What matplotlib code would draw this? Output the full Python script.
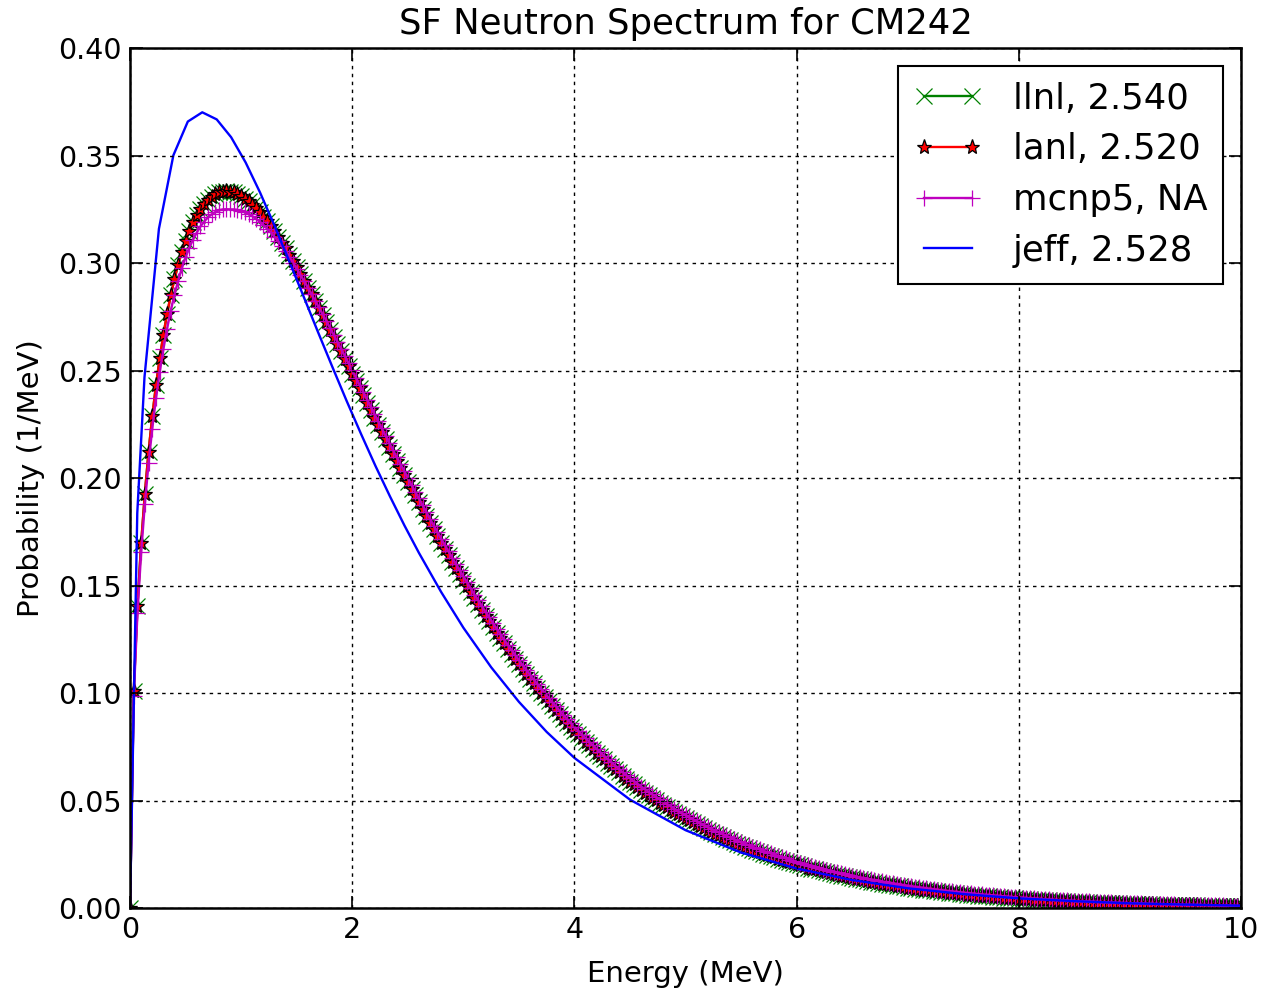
"""SF neutron spectrum comparison for Cm-242 (llnl / lanl / mcnp5 / jeff)."""

import numpy as np
import matplotlib

matplotlib.use("Agg")
import matplotlib.pyplot as plt
from matplotlib.ticker import FormatStrFormatter, MultipleLocator

# energy grid of the three tabulated spectra (MeV), 1/30 MeV steps
energy = np.linspace(0.0, 10.0, 301)

llnl_prob = [
    0.0, 0.1010, 0.1406, 0.1696, 0.1928, 0.2122, 0.2287, 0.2431, 0.2556, 0.2666,
    0.2764, 0.2850, 0.2926, 0.2993, 0.3053, 0.3104, 0.3150, 0.3189, 0.3222, 0.3251,
    0.3274, 0.3294, 0.3309, 0.3320, 0.3328, 0.3332, 0.3333, 0.3332, 0.3328, 0.3321,
    0.3312, 0.3300, 0.3287, 0.3272, 0.3255, 0.3236, 0.3216, 0.3194, 0.3171, 0.3147,
    0.3122, 0.3095, 0.3068, 0.3039, 0.3010, 0.2980, 0.2949, 0.2918, 0.2886, 0.2854,
    0.2822, 0.2790, 0.2757, 0.2724, 0.2690, 0.2657, 0.2623, 0.2589, 0.2554, 0.2520,
    0.2486, 0.2452, 0.2418, 0.2384, 0.2349, 0.2315, 0.2281, 0.2247, 0.2214, 0.2180,
    0.2146, 0.2113, 0.2080, 0.2048, 0.2015, 0.1983, 0.1950, 0.1919, 0.1887, 0.1855,
    0.1824, 0.1792, 0.1761, 0.1731, 0.1700, 0.1670, 0.1641, 0.1611, 0.1582, 0.1554,
    0.1525, 0.1497, 0.1469, 0.1440, 0.1413, 0.1386, 0.1359, 0.1333, 0.1307, 0.1281,
    0.1256, 0.1231, 0.1206, 0.1183, 0.1159, 0.1135, 0.1112, 0.1090, 0.1067, 0.1045,
    0.1024, 0.1002, 0.0982, 0.0961, 0.0941, 0.0921, 0.0901, 0.0881, 0.0862, 0.0844,
    0.0825, 0.0808, 0.0790, 0.0773, 0.0756, 0.0740, 0.0723, 0.0707, 0.0691, 0.0675,
    0.0661, 0.0646, 0.0631, 0.0616, 0.0602, 0.0588, 0.0575, 0.0562, 0.0549, 0.0537,
    0.0525, 0.0513, 0.0502, 0.0490, 0.0479, 0.0468, 0.0458, 0.0447, 0.0437, 0.0427,
    0.0417, 0.04076, 0.03982, 0.03888, 0.03800, 0.03711, 0.03623, 0.03540, 0.03457, 0.03374,
    0.03297, 0.03219, 0.03142, 0.03069, 0.02997, 0.02924, 0.02856, 0.02788, 0.02720, 0.02656,
    0.02593, 0.02529, 0.02470, 0.02410, 0.02351, 0.02296, 0.02240, 0.02185, 0.02133, 0.02082,
    0.02030, 0.01980, 0.01932, 0.01884, 0.01838, 0.01793, 0.01749, 0.01706, 0.01664, 0.01623,
    0.01583, 0.01544, 0.01506, 0.01468, 0.01432, 0.01396, 0.01361, 0.01327, 0.01293, 0.01261,
    0.01229, 0.01198, 0.01168, 0.01139, 0.01110, 0.01082, 0.01055, 0.01029, 0.01003, 0.00978,
    0.00953, 0.00929, 0.00905, 0.00882, 0.00859, 0.00837, 0.00816, 0.00795, 0.00775, 0.00755,
    0.00735, 0.00717, 0.00698, 0.00680, 0.00663, 0.00646, 0.00629, 0.00613, 0.00597, 0.00581,
    0.00566, 0.00552, 0.00537, 0.00523, 0.00510, 0.00496, 0.00484, 0.00471, 0.00459, 0.00447,
    0.00435, 0.00424, 0.00413, 0.00402, 0.00391, 0.00381, 0.00371, 0.00361, 0.00352, 0.00342,
    0.00333, 0.00324, 0.00316, 0.00308, 0.00299, 0.00291, 0.00284, 0.00276, 0.00269, 0.00262,
    0.00255, 0.00248, 0.00241, 0.00235, 0.00228, 0.00222, 0.00216, 0.00211, 0.00205, 0.00200,
    0.00194, 0.00189, 0.00184, 0.00179, 0.00174, 0.00169, 0.00165, 0.00160, 0.00156, 0.00152,
    0.00148, 0.00144, 0.00140, 0.00136, 0.00132, 0.00129, 0.00125, 0.00122, 0.00118, 0.00115,
    0.00112, 0.00109, 0.00106, 0.00103, 0.00100, 0.00098, 0.00095, 0.00092, 0.00090, 0.00087,
    0.00085,
]

# lanl sits right on top of llnl in the picture
lanl_prob = [
    0.0, 0.1010, 0.1406, 0.1696, 0.1928, 0.2122, 0.2287, 0.2431, 0.2556, 0.2666,
    0.2764, 0.2850, 0.2926, 0.2993, 0.3053, 0.3104, 0.3150, 0.3189, 0.3222, 0.3251,
    0.3274, 0.3294, 0.3309, 0.3320, 0.3328, 0.3332, 0.3333, 0.3332, 0.3328, 0.3321,
    0.3312, 0.3300, 0.3287, 0.3272, 0.3255, 0.3236, 0.3216, 0.3194, 0.3171, 0.3147,
    0.3122, 0.3095, 0.3068, 0.3039, 0.3010, 0.2980, 0.2949, 0.2918, 0.2886, 0.2854,
    0.2822, 0.2790, 0.2757, 0.2724, 0.2690, 0.2657, 0.2623, 0.2589, 0.2554, 0.2520,
    0.2486, 0.2452, 0.2418, 0.2384, 0.2349, 0.2315, 0.2281, 0.2247, 0.2214, 0.2180,
    0.2146, 0.2113, 0.2080, 0.2048, 0.2015, 0.1983, 0.1950, 0.1919, 0.1887, 0.1855,
    0.1824, 0.1792, 0.1761, 0.1731, 0.1700, 0.1670, 0.1641, 0.1611, 0.1582, 0.1554,
    0.1525, 0.1497, 0.1469, 0.1440, 0.1413, 0.1386, 0.1359, 0.1333, 0.1307, 0.1281,
    0.1256, 0.1231, 0.1206, 0.1183, 0.1159, 0.1135, 0.1112, 0.1090, 0.1067, 0.1045,
    0.1024, 0.1002, 0.0982, 0.0961, 0.0941, 0.0921, 0.0901, 0.0881, 0.0862, 0.0844,
    0.0825, 0.0808, 0.0790, 0.0773, 0.0756, 0.0740, 0.0723, 0.0707, 0.0691, 0.0675,
    0.0661, 0.0646, 0.0631, 0.0616, 0.0602, 0.0588, 0.0575, 0.0562, 0.0549, 0.0537,
    0.0525, 0.0513, 0.0502, 0.0490, 0.0479, 0.0468, 0.0458, 0.0447, 0.0437, 0.0427,
    0.0417, 0.04076, 0.03982, 0.03888, 0.03800, 0.03711, 0.03623, 0.03540, 0.03457, 0.03374,
    0.03297, 0.03219, 0.03142, 0.03069, 0.02997, 0.02924, 0.02856, 0.02788, 0.02720, 0.02656,
    0.02593, 0.02529, 0.02470, 0.02410, 0.02351, 0.02296, 0.02240, 0.02185, 0.02133, 0.02082,
    0.02030, 0.01980, 0.01932, 0.01884, 0.01838, 0.01793, 0.01749, 0.01706, 0.01664, 0.01623,
    0.01583, 0.01544, 0.01506, 0.01468, 0.01432, 0.01396, 0.01361, 0.01327, 0.01293, 0.01261,
    0.01229, 0.01198, 0.01168, 0.01139, 0.01110, 0.01082, 0.01055, 0.01029, 0.01003, 0.00978,
    0.00953, 0.00929, 0.00905, 0.00882, 0.00859, 0.00837, 0.00816, 0.00795, 0.00775, 0.00755,
    0.00735, 0.00717, 0.00698, 0.00680, 0.00663, 0.00646, 0.00629, 0.00613, 0.00597, 0.00581,
    0.00566, 0.00552, 0.00537, 0.00523, 0.00510, 0.00496, 0.00484, 0.00471, 0.00459, 0.00447,
    0.00435, 0.00424, 0.00413, 0.00402, 0.00391, 0.00381, 0.00371, 0.00361, 0.00352, 0.00342,
    0.00333, 0.00324, 0.00316, 0.00308, 0.00299, 0.00291, 0.00284, 0.00276, 0.00269, 0.00262,
    0.00255, 0.00248, 0.00241, 0.00235, 0.00228, 0.00222, 0.00216, 0.00211, 0.00205, 0.00200,
    0.00194, 0.00189, 0.00184, 0.00179, 0.00174, 0.00169, 0.00165, 0.00160, 0.00156, 0.00152,
    0.00148, 0.00144, 0.00140, 0.00136, 0.00132, 0.00129, 0.00125, 0.00122, 0.00118, 0.00115,
    0.00112, 0.00109, 0.00106, 0.00103, 0.00100, 0.00098, 0.00095, 0.00092, 0.00090, 0.00087,
    0.00085,
]

mcnp5_prob = [
    0.0, 0.0985, 0.1371, 0.1654, 0.1880, 0.2069, 0.2230, 0.2370, 0.2492, 0.2599,
    0.2695, 0.2779, 0.2853, 0.2918, 0.2977, 0.3026, 0.3071, 0.3109, 0.3141, 0.3170,
    0.3192, 0.3212, 0.3226, 0.3237, 0.3245, 0.3249, 0.3250, 0.3249, 0.3249, 0.3247,
    0.3242, 0.3236, 0.3228, 0.3218, 0.3206, 0.3192, 0.3177, 0.3160, 0.3142, 0.3122,
    0.3101, 0.3079, 0.3056, 0.3029, 0.3002, 0.2974, 0.2945, 0.2916, 0.2886, 0.2855,
    0.2825, 0.2794, 0.2763, 0.2731, 0.2698, 0.2666, 0.2633, 0.2601, 0.2567, 0.2534,
    0.2501, 0.2467, 0.2433, 0.2400, 0.2365, 0.2331, 0.2297, 0.2264, 0.2231, 0.2197,
    0.2163, 0.2130, 0.2097, 0.2066, 0.2033, 0.2001, 0.1968, 0.1937, 0.1905, 0.1873,
    0.1842, 0.1810, 0.1779, 0.1749, 0.1718, 0.1688, 0.1659, 0.1629, 0.1600, 0.1572,
    0.1543, 0.1515, 0.1487, 0.1458, 0.1432, 0.1404, 0.1377, 0.1352, 0.1325, 0.1299,
    0.1274, 0.1249, 0.1224, 0.1201, 0.1177, 0.1153, 0.1130, 0.1108, 0.1085, 0.1063,
    0.1042, 0.1020, 0.1000, 0.0978, 0.0958, 0.0938, 0.0918, 0.0898, 0.0879, 0.0861,
    0.0842, 0.0825, 0.0807, 0.0790, 0.0773, 0.0757, 0.0740, 0.0724, 0.0708, 0.0692,
    0.0678, 0.0662, 0.0647, 0.0632, 0.0618, 0.0604, 0.0591, 0.0578, 0.0565, 0.0553,
    0.0541, 0.0529, 0.0518, 0.0505, 0.0494, 0.0483, 0.0473, 0.0462, 0.0452, 0.0442,
    0.0432, 0.04222, 0.04128, 0.04034, 0.03946, 0.03856, 0.03768, 0.03684, 0.03601, 0.03517,
    0.03440, 0.03361, 0.03283, 0.03210, 0.03137, 0.03063, 0.02994, 0.02925, 0.02856, 0.02791,
    0.02727, 0.02662, 0.02602, 0.02541, 0.02480, 0.02424, 0.02367, 0.02311, 0.02257, 0.02205,
    0.02152, 0.02101, 0.02052, 0.02003, 0.01956, 0.01910, 0.01864, 0.01820, 0.01777, 0.01735,
    0.01694, 0.01654, 0.01614, 0.01575, 0.01538, 0.01501, 0.01464, 0.01429, 0.01394, 0.01361,
    0.01327, 0.01295, 0.01264, 0.01234, 0.01203, 0.01174, 0.01146, 0.01119, 0.01091, 0.01065,
    0.01039, 0.01014, 0.00989, 0.00965, 0.00941, 0.00918, 0.00896, 0.00874, 0.00853, 0.00832,
    0.00811, 0.00792, 0.00772, 0.00753, 0.00735, 0.00717, 0.00699, 0.00682, 0.00665, 0.00648,
    0.00632, 0.00617, 0.00601, 0.00586, 0.00572, 0.00557, 0.00544, 0.00530, 0.00517, 0.00505,
    0.00492, 0.00480, 0.00468, 0.00456, 0.00444, 0.00434, 0.00423, 0.00412, 0.00402, 0.00392,
    0.00382, 0.00372, 0.00363, 0.00355, 0.00345, 0.00336, 0.00329, 0.00320, 0.00312, 0.00304,
    0.00297, 0.00289, 0.00281, 0.00275, 0.00267, 0.00260, 0.00253, 0.00248, 0.00241, 0.00236,
    0.00229, 0.00223, 0.00218, 0.00212, 0.00206, 0.00201, 0.00196, 0.00191, 0.00186, 0.00182,
    0.00177, 0.00173, 0.00168, 0.00163, 0.00159, 0.00155, 0.00151, 0.00147, 0.00143, 0.00139,
    0.00136, 0.00132, 0.00129, 0.00125, 0.00122, 0.00120, 0.00116, 0.00113, 0.00110, 0.00107,
    0.00105,
]

# jeff is tabulated on its own, coarser grid
jeff_energy = [
    0.0, 0.065, 0.13, 0.26, 0.39, 0.52, 0.65, 0.78, 0.91, 1.04,
    1.17, 1.30, 1.43, 1.56, 1.69, 1.82, 1.95, 2.08, 2.21, 2.34,
    2.47, 2.60, 2.80, 3.00, 3.25, 3.50, 3.75, 4.00, 4.50, 5.00,
    5.50, 6.00, 6.50, 7.00, 7.50, 8.00, 8.50, 9.00, 9.50, 10.0,
]
jeff_prob = [
    0.0, 0.1836, 0.2469, 0.3159, 0.3501, 0.3658, 0.3701, 0.3668, 0.3585, 0.3468,
    0.3328, 0.3174, 0.3012, 0.2847, 0.2681, 0.2518, 0.2358, 0.2204, 0.2055, 0.1914,
    0.1779, 0.1652, 0.1470, 0.1304, 0.1120, 0.0959, 0.0819, 0.0698, 0.0504, 0.0362,
    0.0258, 0.0184, 0.0130, 0.0092, 0.0065, 0.0045, 0.0032, 0.0022, 0.0016, 0.0011,
]

labels = ["llnl, 2.540", "lanl, 2.520", "mcnp5, NA", "jeff, 2.528"]

plt.rcParams["font.family"] = ["DejaVu Sans"]
plt.rcParams["axes.linewidth"] = 1.8
plt.rcParams["xtick.direction"] = "in"
plt.rcParams["ytick.direction"] = "in"
plt.rcParams["xtick.top"] = True
plt.rcParams["ytick.right"] = True
plt.rcParams["xtick.major.size"] = 9
plt.rcParams["ytick.major.size"] = 9
plt.rcParams["xtick.major.width"] = 1.2
plt.rcParams["ytick.major.width"] = 1.2
plt.rcParams["xtick.major.pad"] = 6
plt.rcParams["ytick.major.pad"] = 6
plt.rcParams["axes.axisbelow"] = False

fig = plt.figure(figsize=(12.65, 9.9), dpi=100)
ax = fig.add_axes([0.1028, 0.0828, 0.8783, 0.8687])

lw = 1.7
ms = 11
mew = 0.9

ax.plot(energy, llnl_prob, color=(0, 0.5, 0), marker="x", ms=ms, mew=mew,
        lw=lw, label=labels[0])
ax.plot(energy, lanl_prob, color="r", marker="*", ms=ms, mew=mew,
        mfc="r", mec="k", lw=lw, label=labels[1])
ax.plot(energy, mcnp5_prob, color=(0.75, 0, 0.75), marker="+", ms=ms, mew=mew,
        lw=lw, label=labels[2])
ax.plot(jeff_energy, jeff_prob, color="b", lw=lw, label=labels[3])

ax.set_xlim(0, 10)
ax.set_ylim(0, 0.40)
ax.xaxis.set_major_locator(MultipleLocator(2))
ax.yaxis.set_major_locator(MultipleLocator(0.05))
ax.yaxis.set_major_formatter(FormatStrFormatter("%.2f"))
ax.tick_params(labelsize=20.5)

ax.grid(True, color="k", linestyle=(0, (2.5, 3.2)), linewidth=1.0)

ax.set_title("SF Neutron Spectrum for CM242", fontsize=25.5, pad=10)
ax.set_xlabel("Energy (MeV)", fontsize=21, labelpad=11)
ax.set_ylabel("Probability (1/MeV)", fontsize=21, labelpad=9)

leg = ax.legend(loc="upper right", fontsize=25.5, numpoints=2, fancybox=False,
                framealpha=1.0, edgecolor="k", borderpad=0.45, labelspacing=0.47,
                handlelength=1.95, handletextpad=0.85, borderaxespad=0.5)
leg.get_frame().set_linewidth(1.5)

fig.savefig("out.png", dpi=100)
